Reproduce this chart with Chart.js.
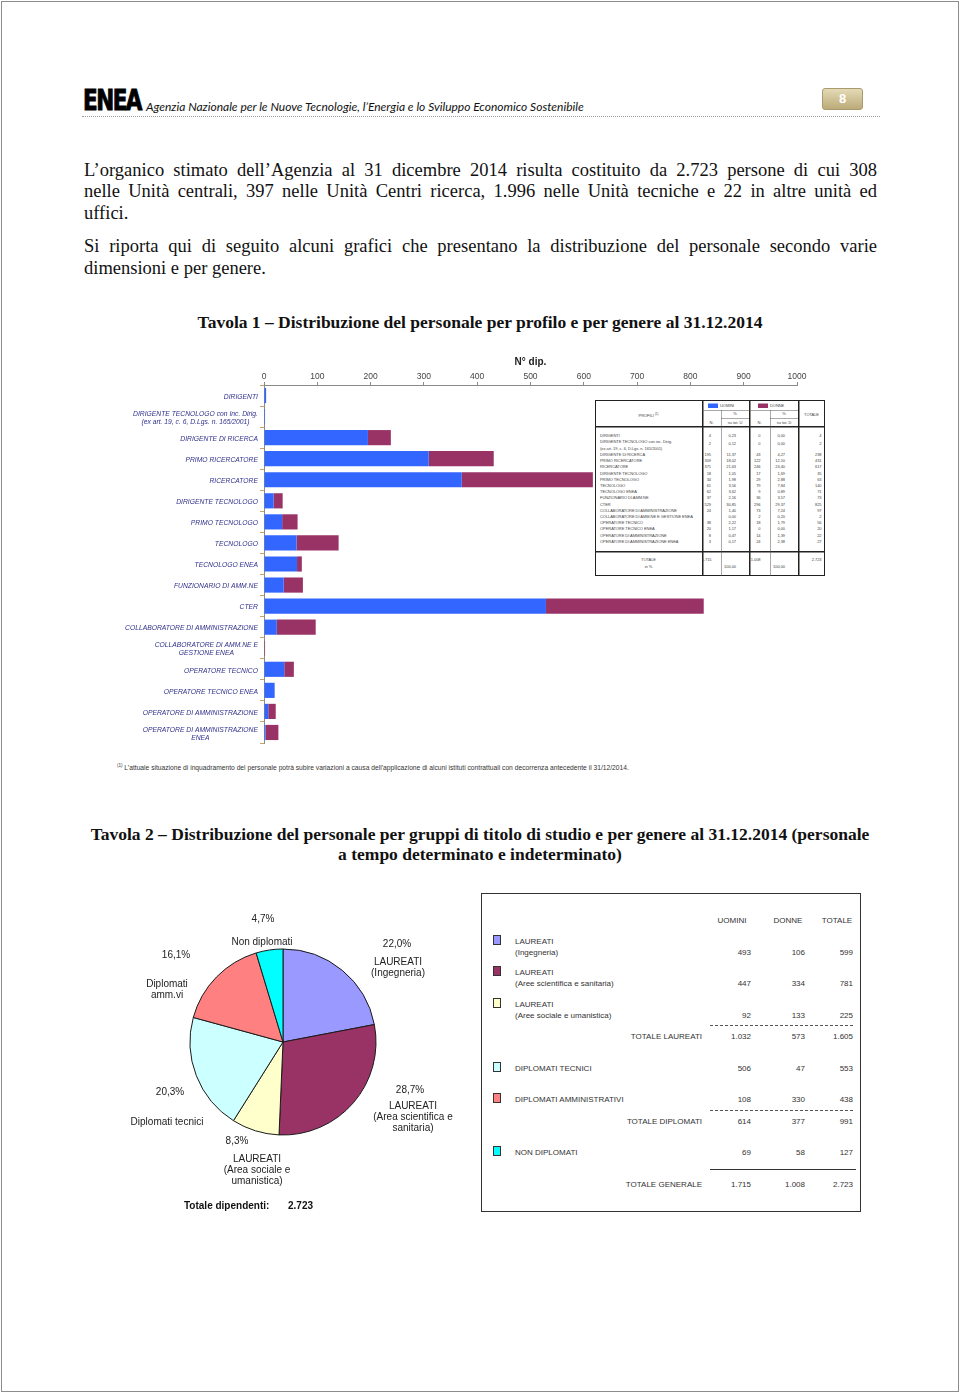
<!DOCTYPE html>
<html lang="it">
<head>
<meta charset="utf-8">
<title>Distribuzione del personale ENEA al 31.12.2014</title>
<script src="https://cdn.jsdelivr.net/npm/chart.js@4.4.1/dist/chart.umd.min.js"></script>
<style>
  html, body { margin: 0; padding: 0; background: #fff; }
  #page { position: relative; width: 960px; height: 1393px; overflow: hidden; background: #fff; }
  #frame { position: absolute; left: 1px; top: 1px; width: 956px; height: 1389px; border: 1px solid #8c8c8c; }
  .t { position: absolute; white-space: nowrap; }
  .serif { font-family: "Liberation Serif", "Times New Roman", serif; color: #111; }
  .jl { position: absolute; left: 84px; width: 793px; font-size: 18.5px; line-height: 22px;
        text-align: justify; text-align-last: justify; }
  .jl.last { text-align-last: left; }
  .title { position: absolute; left: 0; width: 960px; text-align: center; font-weight: bold; font-size: 17.5px; line-height: 20px; }
  canvas { position: absolute; }
</style>
</head>
<body>
<div id="page">
  <div id="frame"></div>

  <!-- intestazione -->
  <div class="t" style="left:83px;top:83px;font-family:'DejaVu Sans';font-weight:bold;font-size:29px;letter-spacing:-2px;transform:scaleX(0.74);transform-origin:left top;color:#000;-webkit-text-stroke:1px #000;">ENEA</div>
  <div class="t" style="left:146px;top:99px;font-family:Lato,'Liberation Sans';font-style:italic;font-size:12px;color:#111;">Agenzia Nazionale per le Nuove Tecnologie, l’Energia e lo Sviluppo Economico Sostenibile</div>
  <div class="t" style="left:822px;top:88px;width:41px;height:22px;border-radius:3px;border:1px solid #a99b6e;box-sizing:border-box;background:linear-gradient(#e4dab6,#bcab78);color:#fff;font-family:Arial,sans-serif;font-weight:bold;font-size:13px;line-height:20px;text-align:center;">8</div>
  <div class="t" style="left:82px;top:116px;width:798px;border-top:1px dotted #9a9a9a;"></div>

  <!-- testo -->
  <div class="serif">
    <div class="jl" style="top:159px;">L’organico stimato dell’Agenzia al 31 dicembre 2014 risulta costituito da 2.723 persone di cui 308</div>
    <div class="jl" style="top:180px;">nelle Unità centrali, 397 nelle Unità Centri ricerca, 1.996 nelle Unità tecniche e 22 in altre unità ed</div>
    <div class="jl last" style="top:202px;">uffici.</div>
    <div class="jl" style="top:235px;">Si riporta qui di seguito alcuni grafici che presentano la distribuzione del personale secondo varie</div>
    <div class="jl last" style="top:257px;">dimensioni e per genere.</div>
    <div class="title" style="top:312px;">Tavola 1 – Distribuzione del personale per profilo e per genere al 31.12.2014</div>
    <div class="title" style="top:824px;">Tavola 2 – Distribuzione del personale per gruppi di titolo di studio e per genere al 31.12.2014 (personale</div>
    <div class="title" style="top:844px;">a tempo determinato e indeterminato)</div>
  </div>

  <canvas id="barChart" width="720" height="400" style="left:110px;top:350px;"></canvas>
  <div id="tab1" style="position:absolute;left:595px;top:400px;width:460px;height:352px;transform:scale(0.5);transform-origin:left top;"></div>

  <div class="t" style="left:117px;top:763px;font-family:Arial,sans-serif;font-size:6.7px;color:#333;"><sup style="font-size:4.5px;">(1)</sup> L’attuale situazione di inquadramento del personale potrà subire variazioni a causa dell’applicazione di alcuni istituti contrattuali con decorrenza antecedente il 31/12/2014.</div>

  <canvas id="pieChart" width="200" height="200" style="left:183px;top:942px;"></canvas>
  <div id="pieLabels"></div>
  <div class="t" style="left:184px;top:1200px;font-family:Arial,sans-serif;font-size:10px;font-weight:bold;color:#111;">Totale dipendenti:</div>
  <div class="t" style="left:288px;top:1200px;font-family:Arial,sans-serif;font-size:10px;font-weight:bold;color:#111;">2.723</div>

  <div id="tab2" style="position:absolute;left:481px;top:893px;width:380px;height:319px;border:1px solid #333;box-sizing:border-box;"></div>
  <div id="tab2txt"></div>
</div>

<script>
// Tavola 1: profili
const profili = [
  "DIRIGENTI",
  ["DIRIGENTE TECNOLOGO con Inc. Dirig.", "(ex art. 19, c. 6, D.Lgs. n. 165/2001)"],
  "DIRIGENTE DI RICERCA",
  "PRIMO RICERCATORE",
  "RICERCATORE",
  "DIRIGENTE TECNOLOGO",
  "PRIMO TECNOLOGO",
  "TECNOLOGO",
  "TECNOLOGO ENEA",
  "FUNZIONARIO DI AMM.NE",
  "CTER",
  "COLLABORATORE DI AMMINISTRAZIONE",
  ["COLLABORATORE DI AMM.NE E", "GESTIONE ENEA"],
  "OPERATORE TECNICO",
  "OPERATORE TECNICO ENEA",
  "OPERATORE DI AMMINISTRAZIONE",
  ["OPERATORE DI AMMINISTRAZIONE", "ENEA"]
];
const uomini = [4, 2, 195, 309, 371, 18, 34, 61, 62, 37, 529, 24, 0, 38, 20, 8, 3];
const donne  = [0, 0, 43, 122, 246, 17, 29, 79, 9, 36, 296, 73, 2, 18, 0, 14, 24];
const xMin = 0, xMax = 1000, xStep = 100;

// Tavola 2: titoli di studio
const titoli = [
  ["LAUREATI", "(Ingegneria)"],
  ["LAUREATI", "(Aree scientifica e sanitaria)"],
  ["LAUREATI", "(Aree sociale e umanistica)"],
  ["DIPLOMATI TECNICI"],
  ["DIPLOMATI AMMINISTRATIVI"],
  ["NON DIPLOMATI"]
];
const pieNomi = [
  ["LAUREATI", "(Ingegneria)"],
  ["LAUREATI", "(Area scientifica e", "sanitaria)"],
  ["LAUREATI", "(Area sociale e", "umanistica)"],
  ["Diplomati tecnici"],
  ["Diplomati", "amm.vi"],
  ["Non diplomati"]
];
const titoliUomini = [493, 447, 92, 506, 108, 69];
const titoliDonne  = [106, 334, 133, 47, 330, 58];
const coloriTitoli = ["#9999ff", "#993366", "#ffffcc", "#ccffff", "#ff8080", "#00ffff"];

const BLU = "#3366ff", VIOLA = "#993366";

const fmt = n => String(n).replace(/\B(?=(\d{3})+(?!\d))/g, ".");
const pct = (v, t) => (v / t * 100).toFixed(2).replace(".", ",");

function put(parent, html, css) {
  const d = document.createElement("div");
  d.style.cssText = "position:absolute;white-space:nowrap;" + css;
  d.innerHTML = html;
  parent.appendChild(d);
  return d;
}

// etichette dell'asse y, righe centrate tra loro e blocco allineato a destra
const yLabels = {
  id: "yLabels",
  afterDraw(chart) {
    const { ctx, scales: { y } } = chart;
    ctx.save();
    ctx.font = "italic 8px Arial";
    ctx.fillStyle = "#30308c";
    ctx.textBaseline = "middle";
    ctx.textAlign = "center";
    const squeeze = 133 / ctx.measureText("COLLABORATORE DI AMMINISTRAZIONE").width;
    const right = y.right - 6;
    profili.forEach((lab, i) => {
      const lines = Array.isArray(lab) ? lab : [lab];
      const w = Math.max(...lines.map(l => ctx.measureText(l).width)) * squeeze;
      const yc = y.getPixelForValue(i) + 1;
      lines.forEach((l, k) => {
        ctx.save();
        ctx.translate(right - w / 2, yc + (k - (lines.length - 1) / 2) * 8);
        ctx.scale(squeeze, 1);
        ctx.fillText(l, 0, 0);
        ctx.restore();
      });
    });
    ctx.restore();
  }
};

new Chart(document.getElementById("barChart"), {
  type: "bar",
  data: {
    labels: profili,
    datasets: [
      { label: "UOMINI", data: uomini, backgroundColor: BLU, barPercentage: 0.72, categoryPercentage: 1 },
      { label: "DONNE", data: donne, backgroundColor: VIOLA, barPercentage: 0.72, categoryPercentage: 1 }
    ]
  },
  options: {
    indexAxis: "y",
    responsive: false,
    animation: false,
    layout: { padding: { top: 0, right: 33, bottom: 7, left: 0 } },
    plugins: { legend: { display: false }, tooltip: { enabled: false } },
    scales: {
      x: {
        position: "top",
        stacked: true,
        min: xMin, max: xMax,
        ticks: { stepSize: xStep, maxRotation: 0, padding: 0, color: "#444", font: { family: "Arial", size: 8.5 },
                 callback: v => String(v) },
        grid: { drawOnChartArea: false, tickLength: 3, color: "#8a8a8a" },
        border: { color: "#8a8a8a" },
        title: { display: true, text: "N° dip.", color: "#222", font: { family: "Arial", size: 10, weight: "bold" }, padding: { top: 6, bottom: 0 } },
        afterFit(s) { s.height = 35; }
      },
      y: {
        stacked: true,
        ticks: { display: false },
        grid: { offset: true, drawOnChartArea: false, tickLength: 4, color: "#c8a46a" },
        border: { color: "#8a8a8a" },
        afterFit(s) { s.width = 154; }
      }
    }
  },
  plugins: [yLabels]
});

// tabellina dentro il grafico (coordinate doppie, scala 0.5)
(function () {
  const T = document.getElementById("tab1");
  const txt = "font-family:Arial,sans-serif;font-size:8px;letter-spacing:-0.1px;color:#444;";
  put(T, "", "left:0;top:0;width:460px;height:352px;border:2px solid #222;box-sizing:border-box;background:#fff;");
  put(T, "", "left:0;top:52px;width:460px;height:3px;background:#222;");
  put(T, "", "left:0;top:302px;width:460px;height:3px;background:#222;");
  [214, 308, 406].forEach(x => put(T, "", `left:${x}px;top:0;width:3px;height:352px;background:#222;`));
  [252, 350].forEach(x => put(T, "", `left:${x}px;top:20px;width:1px;height:332px;background:#555;`));
  put(T, "", "left:214px;top:20px;width:192px;height:1px;background:#555;");
  put(T, "", "left:252px;top:36px;width:56px;height:1px;background:#555;");
  put(T, "", "left:350px;top:36px;width:56px;height:1px;background:#555;");
  put(T, "", `left:226px;top:7px;width:20px;height:9px;background:${BLU};`);
  put(T, "", `left:326px;top:7px;width:20px;height:9px;background:${VIOLA};`);
  const at = (x, y, s, al) => put(T, s, txt + `left:${x}px;top:${y}px;transform:translate(${al === "c" ? "-50%" : al === "r" ? "-100%" : "0"},-50%);`);
  at(250, 12, "UOMINI", "l");
  at(350, 12, "DONNE", "l");
  at(107, 30, "PROFILI <sup style='font-size:6px'>(1)</sup>", "c");
  at(280, 27, "%", "c"); at(280, 45, "su tot. U", "c"); at(233, 45, "N.", "c");
  at(378, 27, "%", "c"); at(378, 45, "su tot. D", "c"); at(329, 45, "N.", "c");
  at(433, 30, "TOTALE", "c");
  const totU = uomini.reduce((a, b) => a + b, 0);
  const totD = donne.reduce((a, b) => a + b, 0);
  let line = 0;
  const yOf = n => 72 + n * 12.43;
  profili.forEach((lab, i) => {
    const names = i === 1 ? ["DIRIGENTE TECNOLOGO con inc. Dirig.", lab[1]]
                          : [Array.isArray(lab) ? lab.join(" ") : lab];
    names.forEach((n, k) => at(10, yOf(line + k), n, "l"));
    const y = yOf(line) + (i === 1 ? 4 : 0);
    if (uomini[i] > 0) at(232, y, uomini[i], "r");
    at(282, y, pct(uomini[i], totU), "r");
    at(331, y, donne[i], "r");
    at(380, y, pct(donne[i], totD), "r");
    at(453, y, uomini[i] + donne[i], "r");
    line += names.length;
  });
  at(107, 320, "TOTALE", "c");
  at(107, 333, "in %", "c");
  at(233, 320, fmt(totU), "r"); at(282, 334, "100,00", "r");
  at(331, 320, fmt(totD), "r"); at(380, 334, "100,00", "r");
  at(453, 320, fmt(totU + totD), "r");
})();

// grafico a torta
const pieValori = titoliUomini.map((u, i) => u + titoliDonne[i]);
const pieTot = pieValori.reduce((a, b) => a + b, 0);

new Chart(document.getElementById("pieChart"), {
  type: "pie",
  data: {
    labels: pieNomi.map(n => n.join(" ")),
    datasets: [{ data: pieValori, backgroundColor: coloriTitoli, borderColor: "#1a1a1a", borderWidth: 1, radius: 93 }]
  },
  options: {
    responsive: false,
    animation: false,
    plugins: { legend: { display: false }, tooltip: { enabled: false } }
  }
});

(function () {
  const P = document.getElementById("pieLabels");
  const css = "font-family:Arial,sans-serif;font-size:10px;color:#222;transform:translate(-50%,-50%);text-align:center;";
  const pctPos = [[397, 943], [410, 1089], [237, 1140], [170, 1091], [176, 954], [263, 918]];
  const nomePos = [[398, 961], [413, 1105], [257, 1158], [167, 1121], [167, 983], [262, 941]];
  pieValori.forEach((v, i) => {
    put(P, (v / pieTot * 100).toFixed(1).replace(".", ",") + "%", css + `left:${pctPos[i][0]}px;top:${pctPos[i][1]}px;`);
    pieNomi[i].forEach((s, k) => put(P, s, css + `left:${nomePos[i][0]}px;top:${nomePos[i][1] + k * 11}px;`));
  });
})();

// tabella accanto alla torta
(function () {
  const P = document.getElementById("tab2txt");
  const css = "font-family:Arial,sans-serif;font-size:8px;color:#333;";
  const at = (x, y, s, al) => put(P, s, css + `left:${x}px;top:${y}px;transform:translate(${al === "c" ? "-50%" : al === "r" ? "-100%" : "0"},-50%);`);
  const colR = [751, 805, 853];
  at(732, 920, "UOMINI", "c"); at(788, 920, "DONNE", "c"); at(837, 920, "TOTALE", "c");
  const yVal = [952, 983, 1015, 1068, 1099, 1152];
  titoli.forEach((t, i) => {
    const y0 = t.length === 2 ? yVal[i] - 11 : yVal[i];
    put(P, "", `left:493px;top:${y0 - 6}px;width:8px;height:10px;background:${coloriTitoli[i]};border:1px solid #333;box-sizing:border-box;`);
    t.forEach((s, k) => at(515, y0 + k * 11, s, "l"));
    at(colR[0], yVal[i], titoliUomini[i], "r");
    at(colR[1], yVal[i], titoliDonne[i], "r");
    at(colR[2], yVal[i], titoliUomini[i] + titoliDonne[i], "r");
  });
  const somma = (arr, a, b) => arr.slice(a, b).reduce((x, y) => x + y, 0);
  const totali = [["TOTALE LAUREATI", 0, 3, 1036], ["TOTALE DIPLOMATI", 3, 5, 1121], ["TOTALE GENERALE", 0, 6, 1184]];
  totali.forEach(([nome, a, b, y]) => {
    const u = somma(titoliUomini, a, b), d = somma(titoliDonne, a, b);
    at(702, y, nome, "r");
    at(colR[0], y, fmt(u), "r"); at(colR[1], y, fmt(d), "r"); at(colR[2], y, fmt(u + d), "r");
  });
  put(P, "", "left:710px;top:1025px;width:143px;border-top:1px dashed #555;");
  put(P, "", "left:710px;top:1110px;width:143px;border-top:1px dashed #555;");
  put(P, "", "left:710px;top:1169px;width:146px;border-top:1px solid #333;");
})();
</script>
</body>
</html>
